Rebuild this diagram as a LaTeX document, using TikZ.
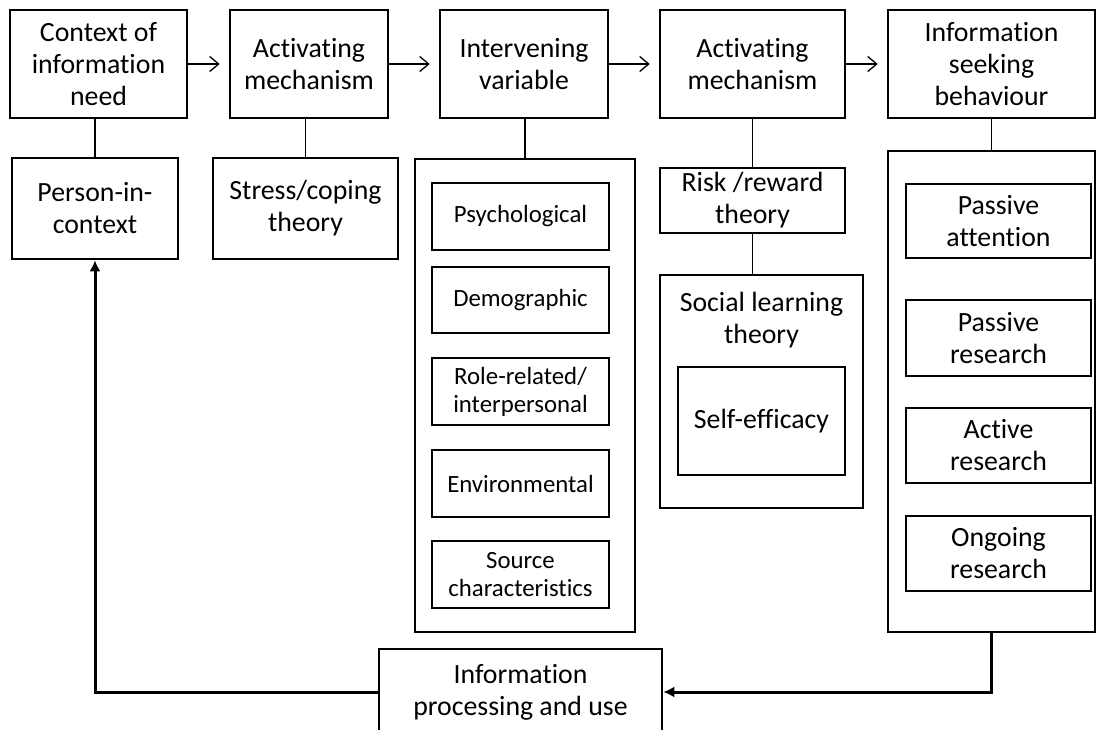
\documentclass[tikz,border=0pt]{standalone}
\usepackage{fontspec}
\setmainfont{Carlito}[Ligatures={NoCommon}]
\usetikzlibrary{arrows.meta}
\begin{document}
\begin{tikzpicture}[x=1pt,y=-1pt,
  box/.style={draw, line width=2.6pt, inner sep=0pt, align=center, font=\fontsize{27.8}{32}\selectfont},
  sbox/.style={box, font=\fontsize{24.8}{28}\selectfont},
  lbl/.style={inner sep=0pt, align=center, font=\fontsize{27.8}{32}\selectfont},
  link/.style={line width=1.5pt},
  arr/.style={line width=1.3pt, -{Straight Barb[length=9pt,width=15pt,line width=1.3pt]}, shorten >=9pt},
  fb/.style={line width=3pt, -{Latex[length=11pt,width=11pt]}},
]
\useasboundingbox (0,0) rectangle (1101,729);
\clip (0,0) rectangle (1101,729);

% top row
\node[box, minimum width=177pt, minimum height=108pt] (ctx) at (98.5,64) {Context of\\information\\need};
\node[box, minimum width=158pt, minimum height=108pt] (act1) at (309,64) {Activating\\mechanism};
\node[box, minimum width=168pt, minimum height=108pt] (iv) at (524,64) {Intervening\\variable};
\node[box, minimum width=185pt, minimum height=108pt] (act2) at (752.5,64) {Activating\\mechanism};
\node[box, minimum width=207pt, minimum height=108pt] (isb) at (991.5,64) {Information\\seeking\\behaviour};

% second row
\node[box, minimum width=166pt, minimum height=101pt] (pic) at (95,208.5) {Person-in-\\context};
\node[box, minimum width=185pt, minimum height=101pt] (stress) at (305.5,208.5) {Stress/coping\\theory};

% intervening variables container
\node[box, minimum width=220pt, minimum height=473pt] (ivc) at (525,395.5) {};
\node[sbox, minimum width=177pt, minimum height=67pt] (psy) at (520.5,216.5) {Psychological};
\node[sbox, minimum width=177pt, minimum height=66pt] (dem) at (520.5,300) {Demographic};
\node[sbox, minimum width=177pt, minimum height=67pt] (role) at (520.5,391.5) {Role-related/\\interpersonal};
\node[sbox, minimum width=177pt, minimum height=67pt] (env) at (520.5,483.5) {Environmental};
\node[sbox, minimum width=177pt, minimum height=67pt] (src) at (520.5,574.5) {Source\\characteristics};

% activating mechanism theories
\node[box, minimum width=185pt, minimum height=65pt] (rr) at (752.5,200.5) {Risk /reward\\theory};
\node[box, minimum width=203pt, minimum height=233pt] (slt) at (761.5,391.5) {};
\node[lbl] (sltl) at (761.5,320) {Social learning\\theory};
\node[box, minimum width=167pt, minimum height=108pt] (se) at (761.5,421) {Self-efficacy};

% information seeking container
\node[box, minimum width=207pt, minimum height=481pt] (isc) at (991.5,391.5) {};
\node[box, minimum width=185pt, minimum height=74pt] (pa) at (998.5,221) {Passive\\attention};
\node[box, minimum width=185pt, minimum height=76pt] (pr) at (998.5,338) {Passive\\research};
\node[box, minimum width=185pt, minimum height=75pt] (ar) at (998.5,445.5) {Active\\research};
\node[box, minimum width=185pt, minimum height=75pt] (og) at (998.5,553.5) {Ongoing\\research};

% bottom
\node[box, minimum width=283pt, minimum height=86pt] (ipu) at (520.5,692) {Information\\processing and use};

% top arrows
\draw[arr] (ctx.east) -- (act1.west);
\draw[arr] (act1.east) -- (iv.west);
\draw[arr] (iv.east) -- (act2.west);
\draw[arr] (act2.east) -- (isb.west);

% vertical links
\draw[link] (pic.north) -- (pic.north |- ctx.south);
\draw[link] (stress.north) -- (stress.north |- act1.south);
\draw[link] (ivc.north) -- (ivc.north |- iv.south);
\draw[link] (act2.south) -- (act2.south |- rr.north);
\draw[link] (rr.south) -- (rr.south |- slt.north);
\draw[link] (isb.south) -- (isb.south |- isc.north);

% feedback loop
\draw[fb] (isc.south) |- (ipu.east);
\draw[fb] (ipu.west) -| (pic.south);
\end{tikzpicture}
\end{document}
